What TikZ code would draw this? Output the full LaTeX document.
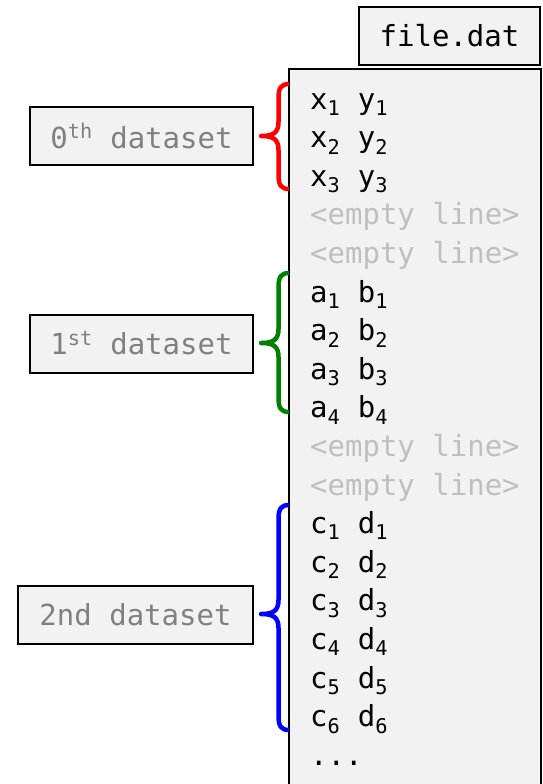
\documentclass[tikz,border=0pt]{standalone}
\usepackage{fontspec}
\newfontfamily\codefont{DejaVu Sans Mono}
\definecolor{boxfill}{HTML}{F2F2F2}
\definecolor{labgray}{HTML}{808080}
\definecolor{emptygray}{HTML}{BFBFBF}
\definecolor{bgreen}{HTML}{008000}
\begin{document}
\begin{tikzpicture}[x=1pt,y=-1pt,
  code/.style={font=\codefont\fontsize{29}{35}\selectfont, inner sep=0pt, anchor=base west},
  emptyline/.style={code, text=emptygray},
  labelbox/.style={draw, line width=2pt, fill=boxfill, font=\codefont\fontsize{29}{35}\selectfont, text=labgray, minimum height=58pt, inner sep=0pt},
  bracestyle/.style={line width=4.5pt, line join=round}]
\useasboundingbox (0,0) rectangle (543,784);
\fill[white] (0,0) rectangle (543,784);
% file box
\node[draw, line width=2pt, fill=boxfill, minimum width=181pt, minimum height=58pt, inner sep=0pt,
      font=\codefont\fontsize{29}{35}\selectfont] (fname) at (449.5,36) {file.dat};
\draw[line width=2pt, fill=boxfill] (289,800) -- (289,69) -- (541,69) -- (541,800);
% rows
\def\rb#1{109+38.6*#1}
\node[code] (r0) at (310,{\rb{0}}) {x\textsubscript{1} y\textsubscript{1}};
\node[code] (r1) at (310,{\rb{1}}) {x\textsubscript{2} y\textsubscript{2}};
\node[code] (r2) at (310,{\rb{2}}) {x\textsubscript{3} y\textsubscript{3}};
\node[emptyline] (r3) at (310,{\rb{3}}) {<empty line>};
\node[emptyline] (r4) at (310,{\rb{4}}) {<empty line>};
\node[code] (r5) at (310,{\rb{5}}) {a\textsubscript{1} b\textsubscript{1}};
\node[code] (r6) at (310,{\rb{6}}) {a\textsubscript{2} b\textsubscript{2}};
\node[code] (r7) at (310,{\rb{7}}) {a\textsubscript{3} b\textsubscript{3}};
\node[code] (r8) at (310,{\rb{8}}) {a\textsubscript{4} b\textsubscript{4}};
\node[emptyline] (r9) at (310,{\rb{9}}) {<empty line>};
\node[emptyline] (r10) at (310,{\rb{10}}) {<empty line>};
\node[code] (r11) at (310,{\rb{11}}) {c\textsubscript{1} d\textsubscript{1}};
\node[code] (r12) at (310,{\rb{12}}) {c\textsubscript{2} d\textsubscript{2}};
\node[code] (r13) at (310,{\rb{13}}) {c\textsubscript{3} d\textsubscript{3}};
\node[code] (r14) at (310,{\rb{14}}) {c\textsubscript{4} d\textsubscript{4}};
\node[code] (r15) at (310,{\rb{15}}) {c\textsubscript{5} d\textsubscript{5}};
\node[code] (r16) at (310,{\rb{16}}) {c\textsubscript{6} d\textsubscript{6}};
\node[code] (r17) at (310,{\rb{17}}) {...};
% labels
\node[labelbox, minimum width=223pt] (l0) at (141.5,136) {0\textsuperscript{th} dataset};
\node[labelbox, minimum width=223pt] (l1) at (141.5,343.5) {1\textsuperscript{st} dataset};
\node[labelbox, minimum width=235pt] (l2) at (135.5,614.5) {2nd dataset};
% braces
\newcommand\mybrace[4]{% color, top, mid, bottom
  \draw[bracestyle, #1] (289,#2) .. controls (281,#2) and (278.5,#2+4) .. (278.5,#2+14)
    -- (278.5,#3-14) .. controls (278.5,#3-3) and (273,#3) .. (261,#3)
    .. controls (273,#3) and (278.5,#3+3) .. (278.5,#3+14)
    -- (278.5,#4-14) .. controls (278.5,#4-4) and (281,#4) .. (289,#4);}
\mybrace{red}{84}{136}{189}
\mybrace{bgreen}{273}{343}{412}
\mybrace{blue}{505}{614}{730}
\end{tikzpicture}
\end{document}
